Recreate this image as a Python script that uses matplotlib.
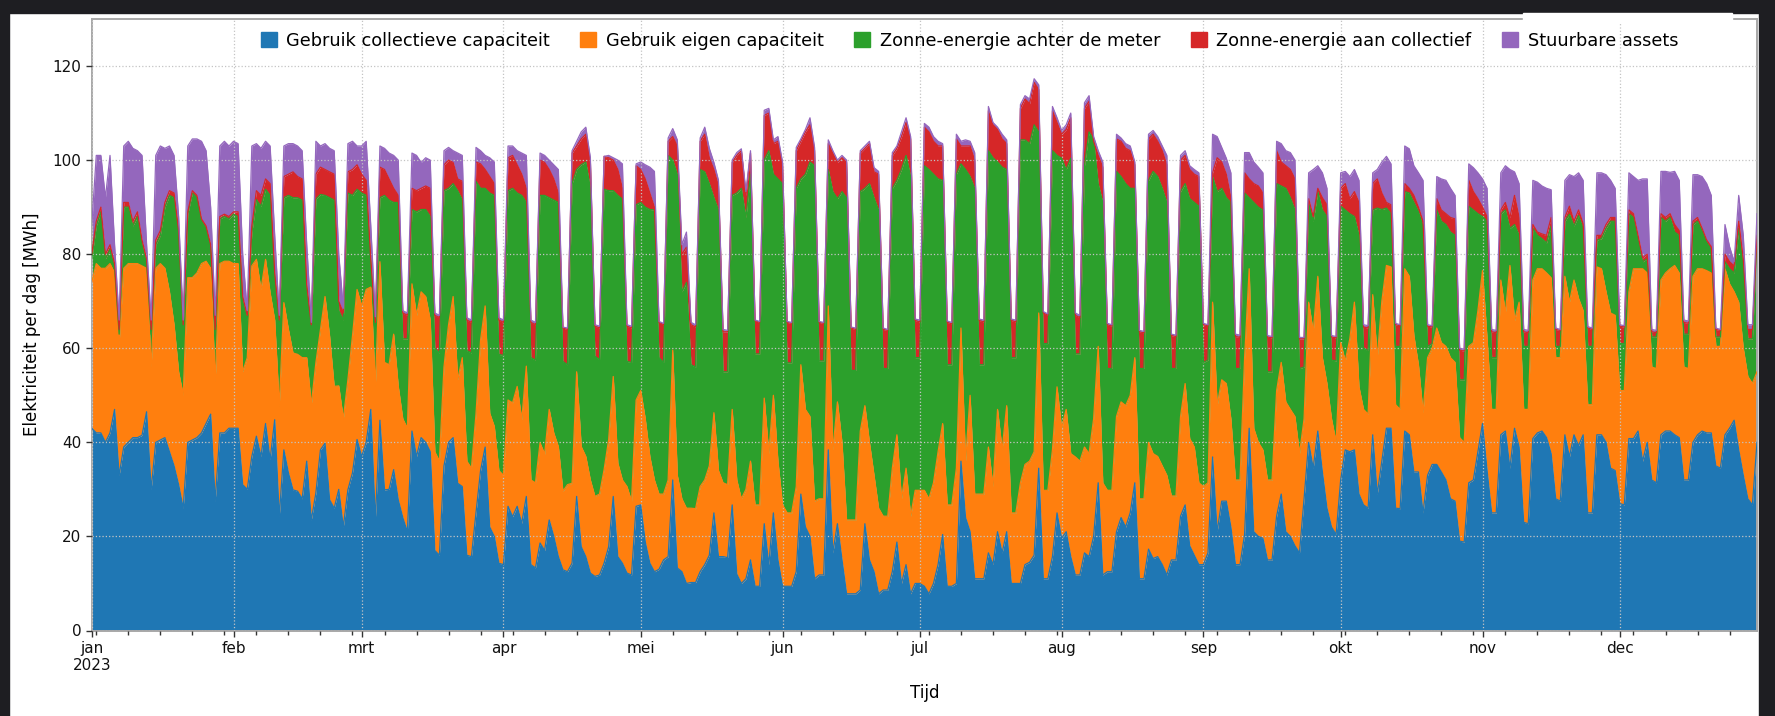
import numpy as np
import pandas as pd
import matplotlib
matplotlib.use("Agg")
import matplotlib.pyplot as plt
import matplotlib.dates as mdates
from matplotlib.ticker import FuncFormatter, MultipleLocator
from matplotlib.patches import Rectangle, Patch

# ---------------- data (cumulative stacked levels, MWh/day) ----------------
dates = pd.date_range("2023-01-01", periods=365, freq="D")

top_collectief = [
    43, 42, 42, 40, 42, 47, 33,
    39, 40, 41, 41, 41.5, 46.5, 30,
    40, 40.5, 41, 38, 35, 31, 26,
    40, 40.5, 41, 42, 44, 46, 27.5,
    42, 42, 43, 43, 43, 31, 30,
    37, 41.3, 37, 44, 36.3, 44.8, 24.2,
    38.4, 33.5, 29.9, 29.6, 28, 36, 23.5,
    29.2, 38.4, 39.8, 27.8, 26, 30, 22,
    29.9, 33.5, 40.6, 37, 40, 47, 23.5,
    44.7, 29.9, 30, 34.2, 27.8, 24, 21,
    42.4, 37, 41, 40, 38, 17, 16,
    35, 40, 41, 31.3, 30.6, 16, 15.7,
    25, 34, 39, 22, 20, 14.3, 14,
    26.4, 24.2, 26.4, 22.8, 28.5, 14, 13.3,
    18.6, 17, 23.5, 20, 15.7, 12.9, 12.5,
    14.3, 28.5, 17.8, 15.7, 12.2, 11.5, 11.8,
    14.3, 17.8, 28.5, 15.7, 14.3, 12.2, 11.8,
    26.4, 26.7, 18.8, 14.3, 12.5, 13, 15,
    15.7, 32, 13.3, 12.5, 10, 10.2, 10.2,
    12.5, 14, 16, 25, 15.7, 15.7, 15.5,
    26.7, 12, 10, 11, 15, 9.4, 9.4,
    22.7, 14, 25, 15, 9.4, 9.4, 9.4,
    12.5, 29, 22, 20, 11, 11.8, 11.8,
    38.4, 16.5, 22.7, 15, 7.8, 7.8, 7.8,
    8.6, 22.7, 15, 12.5, 7.8, 8.6, 8.6,
    12.5, 18.8, 10, 14, 7.8, 10, 10,
    9.4, 7.8, 10, 14, 20.4, 9.4, 9.4,
    10, 36, 24, 21, 11, 11, 11,
    16.5, 14, 21, 16.5, 21, 10, 10,
    10, 14, 14.5, 16, 34.5, 11, 11,
    15.7, 25, 19.6, 21, 15.7, 11.8, 11.8,
    16.5, 15.7, 20, 31.4, 11.8, 12.5, 12.5,
    21, 24, 22, 25, 31.4, 11, 11,
    17.3, 15.3, 15.7, 14, 11.8, 15, 15,
    24.3, 26.7, 18, 16, 14, 14, 16.5,
    36.9, 21, 27.5, 27.5, 22, 14, 14,
    20.4, 43, 21, 20, 19.6, 15, 15,
    24.3, 29, 21, 20, 18, 16.5, 28,
    40, 34.5, 42.4, 33.7, 26, 22, 20.4,
    32, 38.4, 38, 38.4, 29, 26.7, 26,
    41.6, 29, 36, 43, 43, 26, 25.9,
    42.4, 41.6, 33.7, 33.7, 25, 33, 35.3,
    35.3, 33.7, 32, 28, 27.5, 19, 18.8,
    31.4, 32, 38, 44, 34, 25, 25,
    41.6, 42.4, 34.5, 43, 39, 23, 22.7,
    40.8, 42, 42.4, 41, 37.6, 28, 27.5,
    41.6, 36.9, 41.6, 39.3, 41.6, 25, 25,
    41.6, 41.6, 40, 34.5, 34, 27, 26.7,
    40.8, 40.8, 42.4, 36, 40, 32, 31.4,
    41.6, 42.4, 42.4, 41.6, 41, 32, 32,
    40, 41.6, 42.4, 42, 42, 35, 34.5,
    41.6, 43, 44.7, 38.4, 33, 28, 26.7, 40,
]

top_eigen = [
    74, 78, 77, 77, 78, 76, 61,
    77, 78, 78, 78, 77.5, 77, 56,
    77, 78, 77, 72, 65, 55, 50,
    75, 75, 76, 78, 78.5, 77, 53,
    78, 78.5, 78.5, 78, 78, 55, 58,
    77.5, 78.9, 72.5, 78.9, 71.8, 66, 47.7,
    69.7, 64, 59, 58.7, 58, 58, 48,
    56.9, 64, 71, 62.6, 51.9, 52, 45,
    53.3, 62.6, 72.5, 69, 72.5, 73, 52,
    78.4, 57, 56.5, 63, 52, 45, 43,
    73.7, 67, 72, 71, 66, 38, 36,
    56, 65, 71, 53.3, 58, 36, 34.5,
    46, 61.8, 69, 46.2, 43.4, 34, 33,
    49, 48.4, 51.9, 44.8, 56.2, 32, 31.4,
    39.9, 37.5, 47, 42, 39.1, 29.6, 31,
    31.3, 55, 39.1, 37, 32, 28.5, 29,
    34.2, 40.6, 54, 35.6, 32, 30.6, 27.5,
    49, 51, 45, 37, 32, 29, 29,
    32, 59.6, 33, 28, 26, 26, 25.9,
    30.6, 32, 35, 46.3, 34, 31.4, 31,
    47, 32, 28, 30, 36, 26.7, 26.7,
    49.4, 37.6, 50, 36, 26.7, 25, 25,
    30.6, 56.5, 47, 45.5, 27.5, 28, 28,
    69, 38.4, 48.6, 40, 23.5, 23.5, 23.5,
    42.4, 47.8, 40, 33, 26, 24.3, 24.3,
    34.5, 41.6, 28, 34.5, 24.3, 29.8, 29.8,
    29.8, 28, 31.4, 38, 44, 26.7, 26.7,
    34.5, 64.3, 36, 50, 29, 29, 29,
    39, 30.6, 47, 38.4, 47.8, 25, 25,
    31.4, 35.3, 36, 38, 67.5, 29.8, 29.8,
    38.4, 51.8, 43, 47, 37.6, 36.9, 36,
    39, 37.6, 45, 60.4, 31.4, 29.8, 29.8,
    45.5, 48.6, 47.8, 50, 58, 28, 28,
    40, 37.6, 37, 35, 33, 28.6, 28.6,
    45.5, 52.5, 40.8, 39, 31.4, 30.6, 31.4,
    69.8, 47.8, 53.3, 52.5, 45, 32, 32,
    58, 76.9, 43, 40, 38.4, 32, 32,
    51, 57, 48.6, 47, 45.5, 37.6, 45,
    69.8, 63.5, 75.3, 58, 52.5, 45, 40,
    61.2, 57.3, 62, 69.8, 51.8, 47, 46,
    71.4, 58, 70, 77.6, 77.3, 48, 47,
    76.9, 75.3, 62.7, 56.5, 46.3, 58, 60,
    64.3, 61.2, 60.4, 58, 57, 41, 40,
    60.4, 61.2, 68, 76.5, 62, 47, 47,
    74.5, 67.5, 77.6, 65.9, 69.8, 47, 47,
    74.5, 76.9, 76.9, 76, 75, 58, 58,
    75.3, 69.8, 74.5, 70.6, 68, 48, 48,
    77.3, 76.9, 72, 67.5, 67, 51, 51,
    72, 76.9, 76.9, 76.9, 76, 56, 55.7,
    74.5, 76, 76.9, 77.6, 76, 56, 55.7,
    75.3, 76.9, 76.9, 76.5, 76, 60.4, 60.4,
    76.9, 73.7, 72, 69.8, 60, 54, 52.5, 55,
]

top_zon_meter = [
    79, 86, 89, 79, 81, 77, 63,
    90, 90, 86, 88, 82, 78, 63,
    82, 84, 90, 92.5, 92, 84, 64.5,
    88.5, 93, 92, 87, 85.5, 81.5, 63.5,
    87.5, 88, 87.5, 88.5, 88, 70, 66,
    84.5, 91.6, 90.2, 93.8, 92.5, 75, 65,
    92, 92.5, 92, 92, 91.5, 72, 64,
    91.7, 92.7, 92.5, 92, 91.5, 68, 66,
    93, 92.5, 93.8, 93, 92.5, 78, 64.5,
    92, 92.5, 91.5, 91, 91, 62, 62,
    89.5, 89, 89.5, 89.5, 88, 60, 59,
    93.5, 94, 95, 93.5, 91.5, 59.5, 59,
    95.5, 94, 94, 93, 92.5, 58.7, 58.5,
    93.5, 94, 93, 92.5, 91, 58, 57.5,
    92.5, 92.5, 92, 91.5, 91, 57.2, 56.5,
    95, 98, 99, 99.6, 94, 58.3, 57.6,
    93.8, 93.5, 93.5, 92.5, 91.7, 57.2, 57,
    90.5, 91, 90, 89.5, 89.4, 58, 57,
    101, 100, 97, 72, 74, 56.5, 56,
    98, 97.5, 95, 92, 89.4, 55, 55,
    92.5, 93, 94, 87.8, 97, 58.8, 58.8,
    100, 102, 97, 96, 95, 56.9, 56.9,
    94, 96, 97, 99.6, 98.8, 57.3, 57.3,
    98, 93.3, 91.8, 93.3, 92, 55.3, 55.3,
    93.3, 94, 95, 92, 89.4, 55.7, 55.7,
    94, 95.7, 98, 101, 96.5, 58, 58,
    98.8, 98, 97, 96, 95.7, 56.5, 56.5,
    97, 99.2, 98, 96.5, 94, 56.5, 56.5,
    102, 100.5, 99.6, 98.5, 98, 58, 58,
    104.3, 104.3, 103.5, 107.5, 106, 61, 61,
    102, 101, 100.4, 98, 100.4, 58.8, 58.8,
    98.8, 106, 104.3, 95, 91, 55.7, 55.7,
    97.6, 96.5, 95, 94, 94, 55.7, 55.7,
    95.7, 97.6, 96.5, 94, 91, 55.7, 55.7,
    93.3, 95, 91.8, 91, 90.2, 57, 57.5,
    96.5, 93.3, 94, 92, 91, 55.7, 55.7,
    93, 92, 91, 90, 89.4, 55, 55,
    95, 94.5, 94, 92, 89.4, 55.7, 56,
    91, 87, 93.3, 89.4, 88, 57.5, 57.3,
    90.2, 89.4, 88.6, 88, 84, 60, 59.5,
    89.4, 89.8, 89.5, 89.8, 88.6, 60.4, 60.4,
    93.3, 93, 91, 89, 86, 60.4, 61,
    89.4, 87, 86.3, 84.7, 84, 53.3, 53.3,
    90.2, 89.4, 88.6, 88, 87, 58, 58,
    88.6, 89.4, 85.5, 86.3, 84, 60.4, 60.4,
    85.5, 84, 83.3, 82.4, 86, 60.4, 60.4,
    87, 88.5, 86, 88.2, 85.5, 60.4, 60.4,
    83, 83.3, 85.5, 87, 87, 61, 61,
    88.6, 87.8, 83.1, 78.4, 79, 62.4, 62.4,
    87.8, 87, 87.8, 84.7, 84, 63, 63,
    86.3, 87, 85, 82.5, 81, 62.4, 62.4,
    78.4, 76.9, 76, 85.5, 77, 62, 62, 83,
]

top_zon_collectief = [
    80, 87, 90, 80, 82, 78, 64,
    91, 91, 87, 89, 83, 79, 64,
    83, 85, 91, 93.5, 93, 85, 65,
    89, 93.5, 92.5, 87.5, 86, 82, 64,
    88, 88.5, 88, 89, 89, 71, 67,
    86, 93.5, 92.5, 96, 95, 76, 66,
    96.5, 97, 97.5, 96.5, 96, 73.5, 65,
    97, 98.5, 98, 97.5, 97, 70, 67.5,
    97.5, 98, 99, 97, 95.7, 79, 65.5,
    98.5, 98, 96, 94, 92.5, 67.5, 67,
    94, 93.5, 94, 94.5, 94, 67, 66.5,
    99, 100, 99.5, 96, 95.5, 66, 65.5,
    99.6, 99.2, 98, 96.5, 95, 66, 65.5,
    100.5, 101, 99, 97, 94, 65.5, 65,
    100, 99.5, 98, 96, 93, 64.3, 64,
    101.5, 103, 104.5, 105.5, 99.5, 64.7, 64.3,
    100.8, 100.5, 100, 98, 94, 64.7, 64.3,
    98.8, 98, 96, 93, 90, 65.5, 65,
    104, 105, 103, 80, 81.5, 65, 64.5,
    104, 105.5, 100.5, 98, 94.5, 63.5, 63.5,
    99.5, 101, 102, 92.5, 101.5, 65.9, 65.5,
    109.5, 110, 103.5, 104, 99, 65.5, 65.3,
    102, 104, 106, 107.5, 102, 65.5, 65.3,
    103.5, 101.5, 99.5, 100.5, 99.5, 64.3, 64,
    101.5, 102.5, 103.5, 97.5, 97, 64, 63.8,
    101, 102.5, 105, 108, 104.5, 65.9, 65.6,
    107, 106, 104, 103, 103, 65.5, 65.2,
    104.5, 103, 103, 103, 100, 65.9, 65.6,
    110.5, 107.5, 106.5, 104.5, 103.5, 65.9, 65.6,
    111, 113, 112, 116.5, 115, 67.5, 67,
    110.5, 108, 105.5, 106.5, 109, 67, 66.5,
    111, 112.5, 104, 101, 98.5, 65, 64.7,
    104.5, 104, 102.5, 102, 99, 63.5, 63.3,
    104.5, 105.5, 104, 102, 99, 62.7, 62.5,
    100, 101, 98, 97, 96.5, 65, 64.8,
    97.3, 100.5, 99.6, 97, 92, 62.5, 62.3,
    97.3, 96, 95, 94.5, 93, 62.4, 62.2,
    102, 99.6, 98.8, 98, 96, 62, 62,
    91.8, 88, 94, 92, 90.5, 62.4, 62.2,
    94, 95, 91.8, 93.3, 91, 64.5, 64.3,
    95, 96, 93, 91, 90.5, 65, 64.8,
    95, 94, 92.5, 90, 87, 64.7, 64.5,
    91.8, 89.4, 88.6, 87.8, 87.5, 59.6, 59.4,
    95.7, 93.3, 91.8, 90, 88, 63.5, 63.3,
    89.4, 91, 87.8, 92.5, 87.8, 63.5, 63.3,
    86.3, 84.7, 84.3, 84, 87.8, 64, 63.8,
    87.8, 90.2, 87, 89.4, 86.5, 64.3, 64,
    84, 84, 86.3, 87.8, 87.8, 64.7, 64.5,
    89.4, 88.6, 84, 79.2, 80, 63.5, 63.3,
    88.6, 87.8, 88.6, 86.3, 85, 65.5, 65.3,
    87, 87.8, 85.5, 83, 81.6, 64, 63.8,
    80, 78.4, 77.5, 87, 79, 64, 64, 84,
]

top_totaal = [
    86, 101, 101, 92, 101, 82, 66,
    103, 104, 102.5, 102, 101, 82, 66,
    101, 103, 102.5, 103, 101, 88, 66,
    103, 104.5, 104.5, 104, 102, 90, 67,
    103, 104, 103, 104, 103.5, 80, 68,
    103, 103.5, 102.5, 104, 103, 84, 67,
    103, 103.5, 103.5, 103, 102, 82, 65.5,
    104, 103, 103.5, 102.5, 102, 80, 68.5,
    103.5, 104, 103, 103, 104, 86, 66.7,
    103, 102.5, 101.5, 101, 100, 68, 67.5,
    101.5, 101, 99.5, 100.5, 100, 67.5, 67,
    102, 102.7, 102, 101.5, 101, 66.5, 66,
    102.7, 102, 101, 100.5, 99.6, 66.5, 66,
    103, 103, 102, 101.5, 101, 66, 65.5,
    101.5, 101, 100, 99, 98, 64.5, 64.3,
    102, 104, 106, 107, 100.5, 65, 64.7,
    100.8, 101, 100.5, 100, 99.2, 65, 64.7,
    99.2, 99.6, 99, 98.5, 97.6, 65.7, 65.3,
    104.7, 106.7, 104.3, 82, 84.7, 65.5, 65,
    104.7, 107, 102.5, 99.5, 95.7, 64, 63.8,
    100, 101.6, 102.4, 93.3, 102, 66, 65.7,
    110.6, 111, 104.3, 105, 99.6, 65.7, 65.5,
    102.7, 104.5, 106.5, 109, 102.7, 65.7, 65.5,
    104.3, 102, 100, 101, 100, 64.5, 64.3,
    102, 103, 104, 98.4, 97.6, 64.3, 64,
    101.6, 103, 106, 109, 105, 66.2, 66,
    107.8, 107, 105, 104, 103.5, 65.8, 65.5,
    105.5, 104, 104.3, 104, 101.6, 66.2, 66,
    111.4, 108, 107, 105.5, 104.3, 66.2, 66,
    111.8, 113.7, 113, 117.3, 116, 67.8, 67.3,
    111.4, 109, 106.3, 107.5, 110, 67.5, 67,
    112.2, 113.7, 105, 102, 99.6, 65.3, 65,
    105.5, 104.7, 103.5, 103, 99.6, 63.8, 63.6,
    105.5, 106.3, 105, 103, 101, 63, 62.8,
    101, 102, 98.8, 98, 97.3, 65.3, 65,
    105.5, 105, 102.7, 100.4, 97.3, 63, 62.8,
    101.6, 101.6, 99.6, 98.5, 97.3, 62.7, 62.5,
    104, 103.5, 102, 101.6, 100, 62.3, 62.3,
    97.3, 98, 98.8, 97.3, 94, 62.7, 62.5,
    97.3, 97.6, 96.5, 98, 95.7, 65, 64.8,
    97.3, 98, 99.6, 100.8, 99.2, 65.3, 65,
    103, 102.4, 98.8, 97.3, 95.7, 65, 64.8,
    96.5, 96, 95.7, 94, 92.5, 60, 59.8,
    99.2, 98.4, 97.3, 96, 94, 64, 63.8,
    97.3, 98.8, 98, 97.5, 95, 64, 63.8,
    95.7, 95.3, 94.5, 94, 93.7, 64.3, 64,
    95.7, 96.9, 96.5, 97.3, 95.7, 64.6, 64.3,
    97.3, 97.3, 96.9, 95.7, 94, 65, 64.8,
    97.3, 96.5, 95.7, 96, 96, 64, 63.8,
    97.6, 97.6, 97.4, 97.6, 95.7, 66, 65.8,
    96.9, 96.9, 96.5, 95, 92.5, 64.3, 64,
    86.3, 81.6, 78.4, 92.5, 84, 65, 65, 88.6,
]

series_labels = [
    "Gebruik collectieve capaciteit",
    "Gebruik eigen capaciteit",
    "Zonne-energie achter de meter",
    "Zonne-energie aan collectief",
    "Stuurbare assets",
]
series_colors = ["#1f77b4", "#ff7f0e", "#2ca02c", "#d62728", "#9467bd"]
month_names = ["jan", "feb", "mrt", "apr", "mei", "jun",
               "jul", "aug", "sep", "okt", "nov", "dec"]

levels = [np.asarray(v, dtype=float) for v in
          (top_collectief, top_eigen, top_zon_meter, top_zon_collectief, top_totaal)]

# ---------------- figure ----------------
W, H = 1775, 716
fig = plt.figure(figsize=(W / 100, H / 100), dpi=100, facecolor="white")
ax = fig.add_axes([91.7 / W, 1 - 630.5 / H, (1757 - 91.7) / W, (630.5 - 19) / H])

base = np.zeros(len(dates))
for lvl, col in zip(levels, series_colors):
    ax.fill_between(dates, base, lvl, color=col, linewidth=0, zorder=2)
    ax.plot(dates, lvl, color=col, linewidth=0.9, zorder=3)
    base = lvl

ax.set_xlim(dates[0], dates[-1])
ax.set_ylim(0, 130)
ax.yaxis.set_major_locator(MultipleLocator(20))

ax.xaxis.set_major_locator(mdates.MonthLocator())
ax.xaxis.set_minor_locator(mdates.WeekdayLocator(byweekday=mdates.MO))


def month_fmt(x, pos=None):
    d = mdates.num2date(x)
    lab = month_names[d.month - 1]
    if d.month == 1:
        lab += "\n%d" % d.year
    return lab


ax.xaxis.set_major_formatter(FuncFormatter(month_fmt))
ax.tick_params(axis="both", which="major", labelsize=11, length=4, width=1,
               color="#333333", labelcolor="#111111")
ax.tick_params(axis="x", which="minor", length=3, width=1, color="#333333")

ax.grid(True, which="major", linestyle=":", linewidth=0.9, color="#c4c4c4", zorder=0)
ax.set_axisbelow(False)
for s in ax.spines.values():
    s.set_color("#a8a8a8")
    s.set_linewidth(1.4)

ax.set_xlabel("Tijd", fontsize=12, labelpad=8)
ax.set_ylabel("Elektriciteit per dag [MWh]", fontsize=12, labelpad=8)

handles = [Patch(facecolor=c, edgecolor=c) for c in series_colors]
leg = ax.legend(handles, series_labels, loc="upper center", ncol=5, frameon=False,
                fontsize=12.8, handlelength=0.9, handleheight=0.9, columnspacing=1.7,
                handletextpad=0.55, bbox_to_anchor=(0.527, 1.005))

# dark screenshot frame around the white figure
dark = "#1e1e22"
fig.add_artist(Rectangle((0, 0), 9 / W, 1, transform=fig.transFigure, color=dark, zorder=10))
fig.add_artist(Rectangle((0, 1 - 13 / H), 1, 13 / H, transform=fig.transFigure, color=dark, zorder=10))
fig.add_artist(Rectangle((1759 / W, 0), 1 - 1759 / W, 1, transform=fig.transFigure, color=dark, zorder=10))
# white patch hiding the top spine behind the last legend entry (as in the screenshot)
fig.add_artist(Rectangle((1523 / W, 1 - 22 / H), (1732 - 1523) / W, 9 / H,
                         transform=fig.transFigure, color="white", zorder=11))

fig.savefig("out.png", dpi=100, facecolor=fig.get_facecolor())
